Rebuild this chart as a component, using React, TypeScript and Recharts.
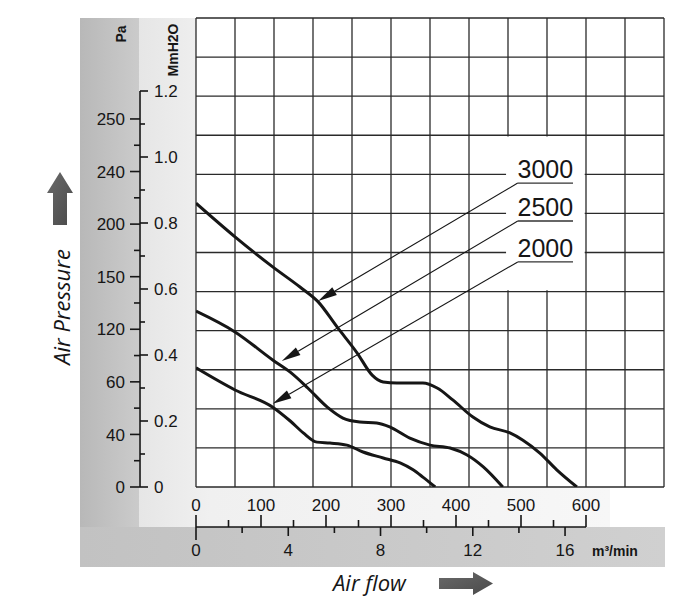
import React from 'react';
import { ComposedChart, Line, XAxis, YAxis, CartesianGrid, ReferenceArea, ReferenceLine } from 'recharts';

// ---------- data ----------
const FLOW_3000 = [0, 60, 118, 160, 188, 217, 248, 271, 288, 309, 349, 371, 395, 426, 452, 483, 503, 529, 555, 586];
const PRES_3000 = [0.86, 0.758, 0.667, 0.606, 0.561, 0.485, 0.406, 0.339, 0.318, 0.315, 0.315, 0.3, 0.264, 0.212, 0.182, 0.164, 0.142, 0.103, 0.052, 0];
const FLOW_2500 = [0, 60, 118, 145, 172, 202, 226, 252, 278, 298, 329, 360, 391, 417, 442, 472];
const PRES_2500 = [0.533, 0.47, 0.385, 0.348, 0.3, 0.242, 0.209, 0.197, 0.194, 0.182, 0.148, 0.127, 0.118, 0.097, 0.061, 0];
const FLOW_2000 = [0, 60, 118, 145, 165, 186, 206, 232, 257, 288, 314, 334, 349, 368];
const PRES_2000 = [0.361, 0.294, 0.242, 0.2, 0.164, 0.136, 0.133, 0.127, 0.106, 0.088, 0.073, 0.052, 0.03, 0];

const SPEED_LABELS = ['3000', '2500', '2000'];
const LABEL_Y = [0.921, 0.806, 0.682];
const LABEL_X = [495, 580];
const TIP_X = [188, 132, 118];
const TIP_Y = [0.564, 0.382, 0.252];

const M3H_TICKS = [0, 50, 100, 150, 200, 250, 300, 350, 400, 450, 500, 550, 600];
const MMIN_TICKS = [0, 2, 4, 6, 8, 10, 12, 14, 16];
const MM_TICKS = [0, 0.1, 0.2, 0.3, 0.4, 0.5, 0.6, 0.7, 0.8, 0.9, 1.0, 1.1, 1.2];
const PA_TICKS = [0, 0.5, 1, 1.5, 2, 2.5, 3, 3.5, 4, 4.5, 5, 5.5, 6, 6.5, 7];
const PA_LABELS = ['0', '40', '60', '120', '150', '200', '240', '250'];

// ---------- layout ----------
const W = 700;
const H = 609;
const PA_W = 60;
const MM_W = 56;
const XA_H = 40;
const XB_H = 40;
const MARGIN = { top: 18, right: 36, bottom: 42, left: 80 };
const PLOT_W = W - MARGIN.left - MARGIN.right - PA_W - MM_W; // 468
const PLOT_H = H - MARGIN.top - MARGIN.bottom - XA_H - XB_H; // 469
const X_MAX = 720;
const Y_MAX = 1.4212;
const MMIN_MAX = 20.29;
const PA_MAX = 8.92;
const GRID_N = 12;
const ROW = Y_MAX / GRID_N;
const COL = X_MAX / GRID_N;

const FONT = '"Liberation Sans", Arial, sans-serif';
const INK = '#161616';

const toSeries = (xs: number[], ys: number[]) => xs.map((q, i) => ({ q, p: ys[i] }));
const S3000 = toSeries(FLOW_3000, PRES_3000);
const S2500 = toSeries(FLOW_2500, PRES_2500);
const S2000 = toSeries(FLOW_2000, PRES_2000);
const MMIN_REF = MMIN_TICKS.map((m) => ({ m, z: 0 }));

const M3hTick = (props: any) => {
  const { x, y, payload } = props;
  const v = payload.value;
  const major = v % 100 === 0;
  const lineY = y + XA_H;
  const len = (600 / X_MAX) * PLOT_W;
  return (
    <g>
      {v === 0 && <line x1={x} y1={lineY} x2={x + len} y2={lineY} stroke={INK} strokeWidth={1.6} />}
      <line x1={x} y1={lineY - (major ? 12 : 7)} x2={x} y2={lineY} stroke={INK} strokeWidth={1.6} />
      {major && (
        <text x={x} y={y + 24} textAnchor="middle" fontSize={17} fontFamily={FONT} fill={INK}>
          {v}
        </text>
      )}
    </g>
  );
};

const MminTick = (props: any) => {
  const { x, y, payload } = props;
  const v = payload.value;
  const major = v % 4 === 0;
  const len = v === 0 ? 13 : major ? 9 : 6;
  return (
    <g>
      <line x1={x} y1={y} x2={x} y2={y + len} stroke={INK} strokeWidth={1.6} />
      {major && (
        <text x={x} y={y + 29} textAnchor="middle" fontSize={17} fontFamily={FONT} fill={INK}>
          {v}
        </text>
      )}
    </g>
  );
};

const MmTick = (props: any) => {
  const { x, y, payload } = props;
  const v = payload.value;
  const k = Math.round(v * 10);
  const major = k % 2 === 0;
  const lineX = x - MM_W;
  const len = (1.2 / Y_MAX) * PLOT_H;
  return (
    <g>
      {k === 0 && <line x1={lineX} y1={y} x2={lineX} y2={y - len} stroke={INK} strokeWidth={1.6} />}
      <line x1={lineX} y1={y} x2={lineX + (major ? 8 : 5)} y2={y} stroke={INK} strokeWidth={1.6} />
      {major && (
        <text x={lineX + 14} y={y} dy="0.36em" textAnchor="start" fontSize={17} fontFamily={FONT} fill={INK}>
          {k === 0 ? '0' : (k / 10).toFixed(1)}
        </text>
      )}
    </g>
  );
};

const PaTick = (props: any) => {
  const { x, y, payload } = props;
  const v = payload.value;
  const major = Number.isInteger(v);
  return (
    <g>
      <line x1={x - (major ? 10 : 6)} y1={y} x2={x} y2={y} stroke={INK} strokeWidth={1.6} />
      {major && (
        <text x={x - 15} y={y} dy="0.36em" textAnchor="end" fontSize={17} fontFamily={FONT} fill={INK}>
          {PA_LABELS[v]}
        </text>
      )}
    </g>
  );
};

const leaderShape = (p: any) => {
  const { x1, y1, x2, y2 } = p;
  const dx = x2 - x1;
  const dy = y2 - y1;
  const d = Math.hypot(dx, dy) || 1;
  const ux = dx / d;
  const uy = dy / d;
  const L = 19;
  const hw = 4.5;
  const bx = x2 - ux * L;
  const by = y2 - uy * L;
  const pts = `${x2},${y2} ${bx - uy * hw},${by + ux * hw} ${bx + uy * hw},${by - ux * hw}`;
  return (
    <g>
      <line x1={x1} y1={y1} x2={bx} y2={by} stroke={INK} strokeWidth={1.1} />
      <polygon points={pts} fill={INK} />
    </g>
  );
};

const makeLabelShape = (label: string) => (p: any) => {
  const { x1, y1, x2, y2 } = p;
  return (
    <g>
      <line x1={x1} y1={y1} x2={x2} y2={y2} stroke="#333" strokeWidth={1.3} />
      <text x={(x1 + x2) / 2} y={y1 - 5} textAnchor="middle" fontSize={25} fontFamily={FONT} fill={INK}>
        {label}
      </text>
    </g>
  );
};

const gridX = ({ offset }: any) =>
  Array.from({ length: GRID_N + 1 }, (_, i) => offset.left + (i * offset.width) / GRID_N);
const gridY = ({ offset }: any) =>
  Array.from({ length: GRID_N + 1 }, (_, i) => offset.top + (i * offset.height) / GRID_N);

const PL = MARGIN.left + PA_W + MM_W;
const PT = MARGIN.top;
const PB = PT + PLOT_H;

export default function App() {
  return (
    <div style={{ position: 'absolute', left: 0, top: 0, width: W, height: H, background: '#fff' }}>
      <svg width={W} height={H} style={{ position: 'absolute', left: 0, top: 0 }}>
        <defs>
          <linearGradient id="gDark" x1="0" y1="0" x2="1" y2="0">
            <stop offset="0" stopColor="#b8b8b8" />
            <stop offset="1" stopColor="#cbcbcb" />
          </linearGradient>
          <linearGradient id="gBand" x1="0" y1="0" x2="1" y2="0">
            <stop offset="0" stopColor="#c2c2c2" />
            <stop offset="1" stopColor="#d0d0d0" />
          </linearGradient>
          <linearGradient id="gLight" x1="0" y1="0" x2="1" y2="0">
            <stop offset="0" stopColor="#e6e6e6" />
            <stop offset="0.15" stopColor="#f0f0f0" />
            <stop offset="1" stopColor="#f7f7f7" />
          </linearGradient>
        </defs>
        <rect x={MARGIN.left} y={PT} width={PA_W - 1} height={PB + XA_H + XB_H - PT} fill="url(#gDark)" />
        <rect x={MARGIN.left} y={PB + XA_H} width={PL + PLOT_W - MARGIN.left + 1} height={XB_H} fill="url(#gBand)" />
        <rect x={MARGIN.left + PA_W - 1} y={PT} width={610 - (MARGIN.left + PA_W - 1)} height={PB + XA_H - PT} fill="url(#gLight)" />
      </svg>
      <div style={{ position: 'absolute', left: 0, top: 0 }}>
        <ComposedChart width={W} height={H} margin={MARGIN}>
          <CartesianGrid
            xAxisId="m3h"
            yAxisId="mm"
            stroke="#2a2a2a"
            strokeWidth={1.3}
            fill="#fff"
            fillOpacity={1}
            verticalCoordinatesGenerator={gridX}
            horizontalCoordinatesGenerator={gridY}
          />
          <XAxis
            xAxisId="m3h"
            dataKey="q"
            type="number"
            domain={[0, X_MAX]}
            allowDataOverflow
            ticks={M3H_TICKS}
            interval={0}
            height={XA_H}
            tickSize={0}
            tickMargin={0}
            axisLine={false}
            tickLine={false}
            tick={<M3hTick />}
          />
          <XAxis
            xAxisId="mmin"
            dataKey="m"
            type="number"
            domain={[0, MMIN_MAX]}
            allowDataOverflow
            ticks={MMIN_TICKS}
            interval={0}
            height={XB_H}
            tickSize={0}
            tickMargin={0}
            axisLine={false}
            tickLine={false}
            tick={<MminTick />}
          />
          <YAxis
            yAxisId="mm"
            type="number"
            domain={[0, Y_MAX]}
            allowDataOverflow
            ticks={MM_TICKS}
            interval={0}
            width={MM_W}
            tickSize={0}
            tickMargin={0}
            axisLine={false}
            tickLine={false}
            tick={<MmTick />}
          />
          <YAxis
            yAxisId="pa"
            type="number"
            domain={[0, PA_MAX]}
            allowDataOverflow
            ticks={PA_TICKS}
            interval={0}
            width={PA_W}
            tickSize={0}
            tickMargin={0}
            axisLine={false}
            tickLine={false}
            tick={<PaTick />}
          />
          <ReferenceArea
            xAxisId="m3h"
            yAxisId="mm"
            x1={8 * COL - 3}
            x2={10 * COL - 2}
            y1={5 * ROW + 0.004}
            y2={9 * ROW - 0.004}
            fill="#fff"
            fillOpacity={1}
            stroke="none"
          />
          <Line xAxisId="mmin" yAxisId="mm" data={MMIN_REF} dataKey="z" dot={false} stroke="none" strokeWidth={0} isAnimationActive={false} />
          <Line xAxisId="m3h" yAxisId="mm" data={S3000} dataKey="p" type="monotone" dot={false} stroke={INK} strokeWidth={3} isAnimationActive={false} />
          <Line xAxisId="m3h" yAxisId="mm" data={S2500} dataKey="p" type="monotone" dot={false} stroke={INK} strokeWidth={3} isAnimationActive={false} />
          <Line xAxisId="m3h" yAxisId="mm" data={S2000} dataKey="p" type="monotone" dot={false} stroke={INK} strokeWidth={3} isAnimationActive={false} />
          {SPEED_LABELS.map((s, i) => (
            <ReferenceLine
              key={'u' + s}
              xAxisId="m3h"
              yAxisId="mm"
              segment={[{ x: LABEL_X[0], y: LABEL_Y[i] }, { x: LABEL_X[1], y: LABEL_Y[i] }]}
              shape={makeLabelShape(s)}
            />
          ))}
          {SPEED_LABELS.map((s, i) => (
            <ReferenceLine
              key={'a' + s}
              xAxisId="m3h"
              yAxisId="mm"
              segment={[{ x: LABEL_X[0], y: LABEL_Y[i] }, { x: TIP_X[i], y: TIP_Y[i] }]}
              shape={leaderShape}
            />
          ))}
        </ComposedChart>
      </div>
      <svg width={W} height={H} style={{ position: 'absolute', left: 0, top: 0, pointerEvents: 'none' }}>
        <defs>
          <linearGradient id="gArrow" x1="0" y1="0" x2="1" y2="1">
            <stop offset="0" stopColor="#6a6a6a" />
            <stop offset="1" stopColor="#4a4a4a" />
          </linearGradient>
        </defs>
        <text x={121} y={34} transform="rotate(-90 121 34)" textAnchor="middle" dominantBaseline="central" fontSize={14} fontWeight="bold" fontFamily={FONT} fill={INK}>
          Pa
        </text>
        <text x={173} y={50} transform="rotate(-90 173 50)" textAnchor="middle" dominantBaseline="central" fontSize={14} fontWeight="bold" fontFamily={FONT} fill={INK}>
          MmH2O
        </text>
        <text x={70} y={307} transform="rotate(-90 70 307)" textAnchor="middle" fontSize={22} fontStyle="italic" fontFamily='"Open Sans", sans-serif' fill={INK}>
          Air Pressure
        </text>
        <polygon points="60,172 73,193 67,193 67,225 53,225 53,193 47,193" fill="url(#gArrow)" />
        <text x={333} y={591} fontSize={22} fontStyle="italic" fontFamily='"Open Sans", sans-serif' fill={INK}>
          Air flow
        </text>
        <polygon points="439,578 473,578 473,572 493,583.5 473,595 473,589 439,589" fill="url(#gArrow)" />
        <text x={592} y={556} fontSize={14} fontWeight="bold" fontFamily={FONT} fill={INK}>
          m³/min
        </text>
      </svg>
    </div>
  );
}
